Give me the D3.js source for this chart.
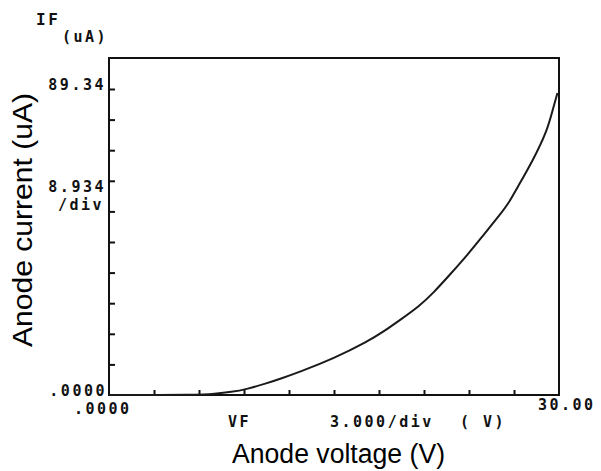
<!DOCTYPE html>
<html>
<head>
<meta charset="utf-8">
<script src="https://cdn.jsdelivr.net/npm/d3@7"></script>
<style>
  body { margin: 0; background: #fff; }
  .mono { font-family: "DejaVu Sans Mono", "Liberation Mono", monospace; font-weight: bold; fill: #111; }
  .title { font-family: "Liberation Sans", Arial, sans-serif; fill: #000; }
</style>
</head>
<body>
<div id="chart"></div>
<script>
// Anode voltage (V) / anode current (uA)
const voltage = [0, 6.0, 7.0, 8.2, 9.1, 10.5, 11.4, 12.7, 15.0, 17.2, 18.3, 19.4, 20.7, 21.6, 22.7, 23.9, 25.0, 26.1, 26.7, 27.1, 28.3, 29.2, 29.6, 29.9];
const current = [0, 0, 0.3, 0.9, 1.6, 3.4, 4.7, 6.7, 10.7, 15.5, 18.5, 21.9, 26.0, 29.7, 35.0, 40.9, 46.9, 52.8, 56.4, 59.6, 68.8, 77.0, 83.6, 88.2];

const xTicks = d3.range(0, 11).map(i => i * 3.0);      // 3.000/div
const yTicks = d3.range(0, 11).map(i => i * 8.934);    // 8.934/div
const xMax = 30.00, yFull = 89.34;

const W = 601, H = 471;
const plotLeft = 109, plotRight = 559, plotBottom = 395, plotTop = 58, yFullPx = 89;

const svg = d3.select("#chart").append("svg")
    .attr("width", W)
    .attr("height", H);

const x = d3.scaleLinear().domain([0, xMax]).range([plotLeft, plotRight]);
const y = d3.scaleLinear().domain([0, yFull]).range([plotBottom, yFullPx]);

// frame
svg.append("rect")
    .attr("x", plotLeft).attr("y", plotTop)
    .attr("width", plotRight - plotLeft).attr("height", plotBottom - plotTop)
    .attr("fill", "none").attr("stroke", "#111").attr("stroke-width", 2);

// ticks, pointing inward
svg.append("g")
    .attr("transform", `translate(0,${plotBottom})`)
    .call(d3.axisBottom(x).tickValues(xTicks.slice(1, -1)).tickSizeInner(-5).tickSizeOuter(0).tickFormat(""))
    .call(g => g.select(".domain").remove())
    .call(g => g.selectAll("line").attr("stroke", "#111").attr("stroke-width", 2));

svg.append("g")
    .attr("transform", `translate(${plotLeft},0)`)
    .call(d3.axisLeft(y).tickValues(yTicks.slice(1)).tickSizeInner(-6).tickSizeOuter(0).tickFormat(""))
    .call(g => g.select(".domain").remove())
    .call(g => g.selectAll("line").attr("stroke", "#111").attr("stroke-width", 2));

// curve
const pts = voltage.map((v, i) => [v, current[i]]);
svg.append("path")
    .datum(pts)
    .attr("fill", "none")
    .attr("stroke", "#1a1a1a")
    .attr("stroke-width", 2)
    .attr("d", d3.line().x(d => x(d[0])).y(d => y(d[1])).curve(d3.curveBasis));

// plotter labels
function mono(txt, px, py, anchor, size) {
    svg.append("text").attr("class", "mono")
        .attr("x", px).attr("y", py)
        .attr("text-anchor", anchor || "start")
        .style("font-size", (size || 15) + "px")
        .style("letter-spacing", "2.5px")
        .text(txt);
}
mono("IF", 36, 25, "start", 16);
mono("(uA)", 62, 42, "start", 15);
mono("89.34", 106, 90, "end");
mono("8.934", 106, 192, "end");
mono("/div", 104, 209.5, "end");
mono(".0000", 107, 396, "end");
mono(".0000", 74, 413.5);
mono("VF", 228, 427);
mono("3.000/div", 330, 427);
mono("( V)", 460, 427);
mono("30.00", 538, 410);

// axis titles
svg.append("text").attr("class", "title")
    .attr("x", 232).attr("y", 463)
    .style("font-size", "27px")
    .attr("textLength", 213).attr("lengthAdjust", "spacingAndGlyphs")
    .text("Anode voltage (V)");

svg.append("text").attr("class", "title")
    .attr("transform", "translate(32,347) rotate(-90)")
    .style("font-size", "28px")
    .attr("textLength", 254).attr("lengthAdjust", "spacingAndGlyphs")
    .text("Anode current (uA)");
</script>
</body>
</html>
